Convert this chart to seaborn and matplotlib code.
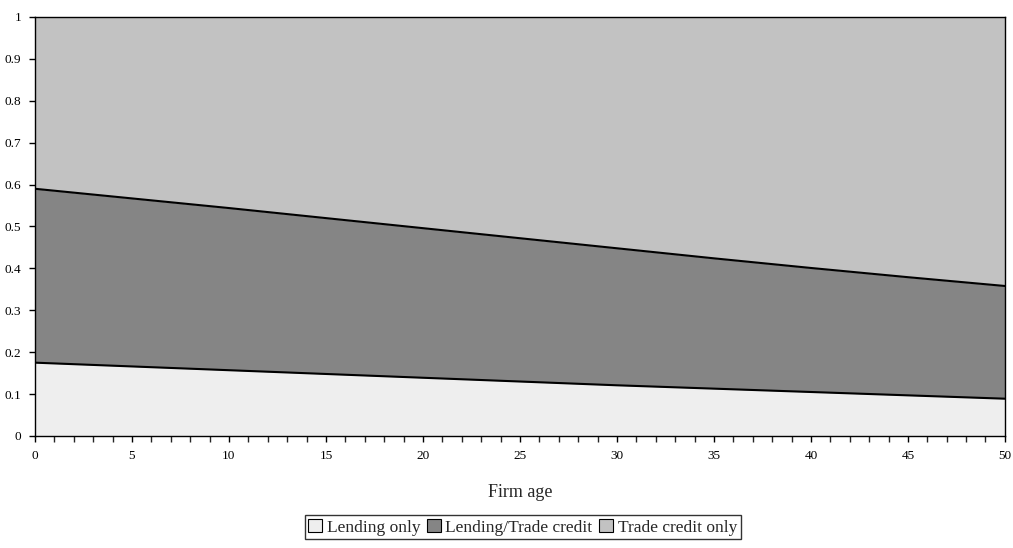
import numpy as np
import pandas as pd
import matplotlib
matplotlib.use("Agg")
import matplotlib.pyplot as plt
import seaborn as sns
from matplotlib.patches import Patch

# firm age and the two boundaries between the regimes
age = [0, 5, 10, 15, 20, 25, 30, 35, 40, 45, 50]
lending_only_top = [0.175, 0.166, 0.157, 0.148, 0.139, 0.130, 0.121, 0.113, 0.105, 0.097, 0.089]
trade_credit_bottom = [0.590, 0.567, 0.544, 0.520, 0.496, 0.472, 0.448, 0.424, 0.401, 0.379, 0.358]
series_names = ["Lending only", "Lending/Trade credit", "Trade credit only"]
colors = ["#eeeeee", "#858585", "#c2c2c2"]

sns.set_style("ticks")
plt.rcParams["font.family"] = ["Liberation Serif", "DejaVu Serif"]

df = pd.DataFrame({"age": age, "low": lending_only_top, "high": trade_credit_bottom})
long = df.melt(id_vars="age", var_name="boundary", value_name="share")

fig = plt.figure(figsize=(10.13, 5.48), dpi=100)
ax = fig.add_axes([0.0345, 0.2044, 0.9575, 0.7646])

ax.fill_between(df["age"], 0, df["low"], color=colors[0], linewidth=0)
ax.fill_between(df["age"], df["low"], df["high"], color=colors[1], linewidth=0)
ax.fill_between(df["age"], df["high"], 1, color=colors[2], linewidth=0)
sns.lineplot(data=long, x="age", y="share", units="boundary", estimator=None,
             color="black", linewidth=1.5, legend=False, ax=ax)

ax.set_xlim(0, 50)
ax.set_ylim(0, 1)
ax.set_xticks(range(0, 51, 5))
ax.set_xticks(range(0, 51), minor=True)
ax.set_yticks(np.round(np.arange(0, 1.01, 0.1), 1))
ax.set_yticklabels(["0", "0.1", "0.2", "0.3", "0.4", "0.5", "0.6", "0.7", "0.8", "0.9", "1"])
ax.tick_params(axis="both", which="major", direction="out", length=4, width=1,
               labelsize=9.5, pad=6, colors="black")
ax.tick_params(axis="x", which="minor", direction="out", length=4, width=1)
for s in ax.spines.values():
    s.set_visible(True)
    s.set_linewidth(1.0)
    s.set_color("black")
ax.set_xlabel("Firm age", fontsize=13, labelpad=16)
ax.set_ylabel("")

handles = [Patch(facecolor=c, edgecolor="black", linewidth=0.8) for c in colors]
leg = fig.legend(handles, series_names, loc="center", bbox_to_anchor=(0.516, 0.038),
                 ncol=3, frameon=True, fancybox=False, fontsize=12.5,
                 handlelength=0.8, handleheight=0.8, handletextpad=0.25,
                 columnspacing=0.4, borderpad=0.2, borderaxespad=0)
leg.get_frame().set_edgecolor("black")
leg.get_frame().set_linewidth(1.0)

fig.savefig("out.png", dpi=100)
